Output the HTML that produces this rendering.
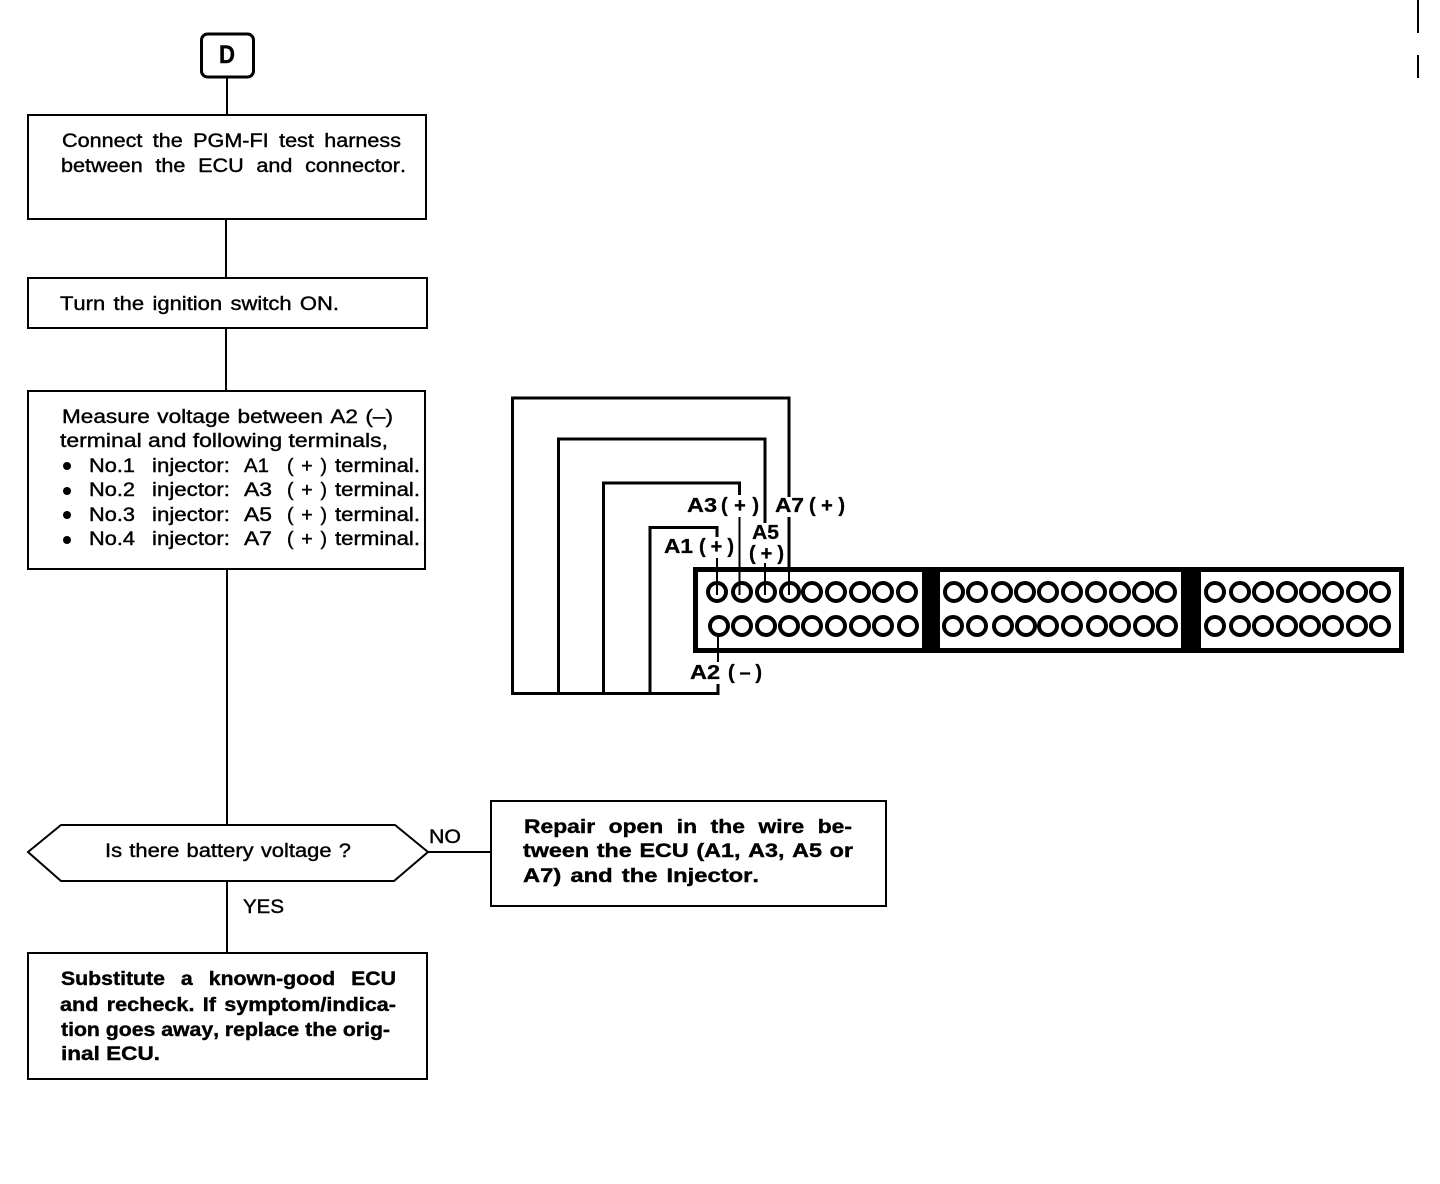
<!DOCTYPE html>
<html><head><meta charset="utf-8"><style>
html,body{margin:0;padding:0;background:#fff}
svg{display:block}
text{font-family:"Liberation Sans",sans-serif;font-size:19.500px;fill:#000;stroke:#000;stroke-width:.4px;font-kerning:none}
.b{font-weight:bold;font-size:19px;stroke-width:.4px}
.l{font-weight:bold;font-size:20px;stroke-width:.3px}
</style></head><body>
<svg width="1440" height="1184" viewBox="0 0 1440 1184" xmlns="http://www.w3.org/2000/svg">
<rect width="1440" height="1184" fill="#fff"/>
<g fill="none" stroke="#000" stroke-width="2" shape-rendering="crispEdges">
<rect x="28" y="115" width="398" height="104"/>
<rect x="28" y="278" width="399" height="50"/>
<rect x="28" y="391" width="397" height="178"/>
<rect x="491" y="801" width="395" height="105"/>
<rect x="28" y="953" width="399" height="126"/>
<path d="M227 77V115M226 219V278M226 328V391M227 569V825M227 881V953M428 852H490M1418 0V33M1418 55V78"/>
</g>
<polygon points="28,852 61,825 395,825 428,852 394,881 61,881" fill="#fff" stroke="#000" stroke-width="2"/>
<rect x="201.500" y="34" width="52" height="43" rx="6" fill="#fff" stroke="#000" stroke-width="3"/>
<text x="219" y="63" style="font-weight:bold;font-size:25px" textLength="16" lengthAdjust="spacingAndGlyphs">D</text>

<text x="62" y="147" textLength="339" lengthAdjust="spacingAndGlyphs" style="word-spacing:4px">Connect the PGM-FI test harness</text>
<text x="61" y="172" textLength="345" lengthAdjust="spacingAndGlyphs" style="word-spacing:6px">between the ECU and connector.</text>
<text x="60" y="310" textLength="279" lengthAdjust="spacingAndGlyphs" style="word-spacing:2px">Turn the ignition switch ON.</text>

<text x="62" y="423" textLength="331" lengthAdjust="spacingAndGlyphs" style="word-spacing:1px">Measure voltage between A2 (–)</text>
<text x="60" y="447" textLength="328" lengthAdjust="spacingAndGlyphs">terminal and following terminals,</text>

<g>
<circle cx="67" cy="466" r="4"/><circle cx="67" cy="491" r="4"/><circle cx="67" cy="515" r="4"/><circle cx="67" cy="540" r="4"/>
<text x="89" y="472" textLength="46" lengthAdjust="spacingAndGlyphs">No.1</text><text x="152" y="472" textLength="78" lengthAdjust="spacingAndGlyphs">injector:</text><text x="244" y="472" textLength="25" lengthAdjust="spacingAndGlyphs">A1</text><text x="287" y="472" textLength="40" lengthAdjust="spacing">(+)</text><text x="335" y="472" textLength="85" lengthAdjust="spacingAndGlyphs">terminal.</text>
<text x="89" y="496" textLength="46" lengthAdjust="spacingAndGlyphs">No.2</text><text x="152" y="496" textLength="78" lengthAdjust="spacingAndGlyphs">injector:</text><text x="244" y="496" textLength="28" lengthAdjust="spacingAndGlyphs">A3</text><text x="287" y="496" textLength="40" lengthAdjust="spacing">(+)</text><text x="335" y="496" textLength="85" lengthAdjust="spacingAndGlyphs">terminal.</text>
<text x="89" y="521" textLength="46" lengthAdjust="spacingAndGlyphs">No.3</text><text x="152" y="521" textLength="78" lengthAdjust="spacingAndGlyphs">injector:</text><text x="244" y="521" textLength="28" lengthAdjust="spacingAndGlyphs">A5</text><text x="287" y="521" textLength="40" lengthAdjust="spacing">(+)</text><text x="335" y="521" textLength="85" lengthAdjust="spacingAndGlyphs">terminal.</text>
<text x="89" y="545" textLength="46" lengthAdjust="spacingAndGlyphs">No.4</text><text x="152" y="545" textLength="78" lengthAdjust="spacingAndGlyphs">injector:</text><text x="244" y="545" textLength="28" lengthAdjust="spacingAndGlyphs">A7</text><text x="287" y="545" textLength="40" lengthAdjust="spacing">(+)</text><text x="335" y="545" textLength="85" lengthAdjust="spacingAndGlyphs">terminal.</text>
</g>

<text x="105" y="857" textLength="246" lengthAdjust="spacingAndGlyphs" style="word-spacing:1px">Is there battery voltage ?</text>
<text x="429" y="843" textLength="32" lengthAdjust="spacingAndGlyphs">NO</text>
<text x="243" y="913" textLength="41" lengthAdjust="spacingAndGlyphs">YES</text>

<text class="b" x="524" y="833" textLength="328" lengthAdjust="spacingAndGlyphs" style="word-spacing:6px">Repair open in the wire be-</text>
<text class="b" x="523" y="857" textLength="330" lengthAdjust="spacingAndGlyphs" style="word-spacing:1px">tween the ECU (A1, A3, A5 or</text>
<text class="b" x="523" y="882" textLength="236" lengthAdjust="spacingAndGlyphs" style="word-spacing:2px">A7) and the Injector.</text>

<text class="b" x="61" y="985" textLength="335" lengthAdjust="spacingAndGlyphs" style="word-spacing:9px">Substitute a known-good ECU</text>
<text class="b" x="60" y="1011" textLength="336" lengthAdjust="spacingAndGlyphs" style="word-spacing:2px">and recheck. If symptom/indica-</text>
<text class="b" x="61" y="1036" textLength="329" lengthAdjust="spacingAndGlyphs">tion goes away, replace the orig-</text>
<text class="b" x="61" y="1060" textLength="99" lengthAdjust="spacingAndGlyphs">inal ECU.</text>

<!-- wires -->
<g fill="none" stroke="#000" shape-rendering="crispEdges">
<path stroke-width="3" d="M789 497V398H512.500V693.500H718V684"/>
<path stroke-width="3" d="M765 523V439H558.500V694"/>
<path stroke-width="3" d="M739.500 495V483H603.500V694"/>
<path stroke-width="3" d="M717 537V527.500H650V694"/>
<path stroke-width="3" d="M789 517V568"/>
</g>

<!-- connector -->
<rect x="695.500" y="569.500" width="706" height="81" fill="none" stroke="#000" stroke-width="5"/>
<rect x="922" y="568" width="18" height="84" fill="#000"/>
<rect x="1181" y="568" width="20" height="84" fill="#000"/>
<g fill="none" stroke="#000" stroke-width="4">
<circle cx="717" cy="592" r="9"/><circle cx="742" cy="592" r="9"/><circle cx="766" cy="592" r="9"/><circle cx="790" cy="592" r="9"/><circle cx="812" cy="592" r="9"/><circle cx="836" cy="592" r="9"/><circle cx="860" cy="592" r="9"/><circle cx="883" cy="592" r="9"/><circle cx="907" cy="592" r="9"/>
<circle cx="719" cy="626" r="9"/><circle cx="742" cy="626" r="9"/><circle cx="766" cy="626" r="9"/><circle cx="789" cy="626" r="9"/><circle cx="812" cy="626" r="9"/><circle cx="836" cy="626" r="9"/><circle cx="860" cy="626" r="9"/><circle cx="883" cy="626" r="9"/><circle cx="908" cy="626" r="9"/>
<circle cx="954" cy="592" r="9"/><circle cx="977" cy="592" r="9"/><circle cx="1002" cy="592" r="9"/><circle cx="1025" cy="592" r="9"/><circle cx="1048" cy="592" r="9"/><circle cx="1072" cy="592" r="9"/><circle cx="1096" cy="592" r="9"/><circle cx="1120" cy="592" r="9"/><circle cx="1143" cy="592" r="9"/><circle cx="1166" cy="592" r="9"/>
<circle cx="953" cy="626" r="9"/><circle cx="977" cy="626" r="9"/><circle cx="1003" cy="626" r="9"/><circle cx="1026" cy="626" r="9"/><circle cx="1048" cy="626" r="9"/><circle cx="1072" cy="626" r="9"/><circle cx="1097" cy="626" r="9"/><circle cx="1120" cy="626" r="9"/><circle cx="1144" cy="626" r="9"/><circle cx="1167" cy="626" r="9"/>
<circle cx="1215" cy="592" r="9"/><circle cx="1240" cy="592" r="9"/><circle cx="1263" cy="592" r="9"/><circle cx="1287" cy="592" r="9"/><circle cx="1310" cy="592" r="9"/><circle cx="1333" cy="592" r="9"/><circle cx="1357" cy="592" r="9"/><circle cx="1380" cy="592" r="9"/>
<circle cx="1215" cy="626" r="9"/><circle cx="1240" cy="626" r="9"/><circle cx="1263" cy="626" r="9"/><circle cx="1287" cy="626" r="9"/><circle cx="1310" cy="626" r="9"/><circle cx="1333" cy="626" r="9"/><circle cx="1357" cy="626" r="9"/><circle cx="1380" cy="626" r="9"/>
</g>
<path d="M717 558V595M739.500 517V595M765 563V595M789 568V595M718 635V662" fill="none" stroke="#000" stroke-width="2" shape-rendering="crispEdges"/>

<!-- connector labels -->
<text class="l" x="687" y="512" textLength="30" lengthAdjust="spacingAndGlyphs">A3</text><text class="l" x="721" y="512" textLength="38" lengthAdjust="spacing">(+)</text>
<text class="l" x="775" y="512" textLength="29" lengthAdjust="spacingAndGlyphs">A7</text><text class="l" x="809" y="512" textLength="36" lengthAdjust="spacing">(+)</text>
<text class="l" x="752" y="539" textLength="27" lengthAdjust="spacingAndGlyphs">A5</text><text class="l" x="749" y="560" textLength="35" lengthAdjust="spacing">(+)</text>
<text class="l" x="664" y="553" textLength="29" lengthAdjust="spacingAndGlyphs">A1</text><text class="l" x="699" y="553" textLength="35" lengthAdjust="spacing">(+)</text>
<text class="l" x="690" y="679" textLength="30" lengthAdjust="spacingAndGlyphs">A2</text><text class="l" x="728" y="679" textLength="34" lengthAdjust="spacing">(–)</text>
</svg>
</body></html>
